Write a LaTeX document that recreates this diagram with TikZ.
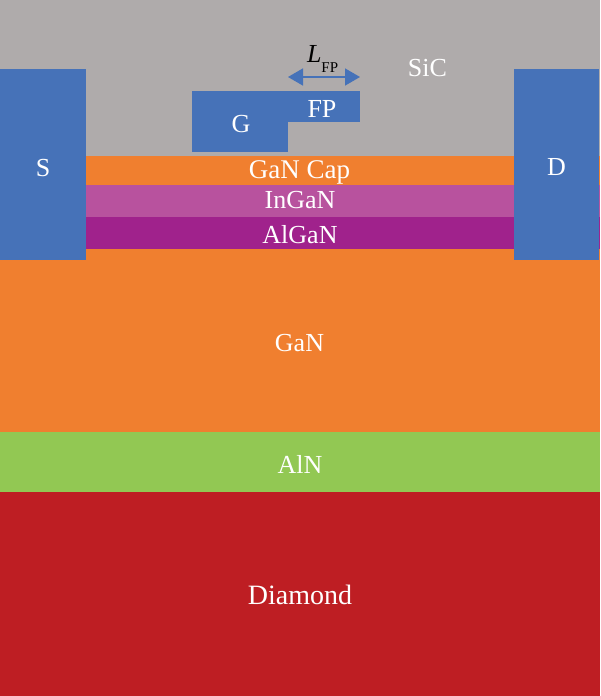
\documentclass[tikz,border=0pt]{standalone}
\usepackage{fontspec}
\setmainfont{Liberation Serif}
\usetikzlibrary{arrows.meta,positioning,calc}
\definecolor{sicgray}{HTML}{AFABAB}
\definecolor{ganorange}{HTML}{F07F2F}
\definecolor{inganpink}{HTML}{B8529E}
\definecolor{alganpurple}{HTML}{A0228C}
\definecolor{alngreen}{HTML}{92C853}
\definecolor{diamondred}{HTML}{BE1E23}
\definecolor{metalblue}{HTML}{4672B8}
\begin{document}
\begin{tikzpicture}[
        x=1pt,y=-1pt,
        layer/.style={rectangle,draw=none,inner sep=0pt,outer sep=0pt,minimum width=600pt},
        metal/.style={layer,fill=metalblue},
        tag/.style={inner sep=0pt,outer sep=0pt,anchor=base,text=white,font=\fontsize{26}{28}\selectfont},
        arrow/.style={{Triangle[length=15pt,width=17pt]}-{Triangle[length=15pt,width=17pt]},draw=metalblue,line width=1.5pt}
    ]
        \useasboundingbox (0,0) rectangle (600,696);

        \node[layer,fill=sicgray,minimum height=156pt] (sic) at (300,78) {};
        \node[layer,fill=ganorange,minimum height=183pt] (gan) at (300,340.5) {};
        \node[layer,fill=ganorange,minimum height=29pt] (cap) at (300,170.5) {};
        \node[layer,fill=inganpink,minimum height=32pt] (ingan) at (300,201) {};
        \node[layer,fill=alganpurple,minimum height=32pt] (algan) at (300,233) {};
        \node[layer,fill=alngreen,minimum height=60pt] (aln) at (300,462) {};
        \node[layer,fill=diamondred,minimum height=204pt] (diamond) at (300,594) {};

        \node[metal,minimum width=86pt,minimum height=191pt] (source) at (43,164.5) {};
        \node[metal,minimum width=85.5pt,minimum height=191pt] (drain) at (556.25,164.5) {};
        \node[metal,minimum width=96pt,minimum height=61pt] (gate) at (240,121.5) {};
        \node[metal,minimum width=72pt,minimum height=31pt] (fp) at (324,106.5) {};

        \node[tag] (siclabel) at (427.5,76) {SiC};
        \node[tag] (slabel) at (43,176) {S};
        \node[tag] (dlabel) at (556.5,175.5) {D};
        \node[tag] (glabel) at (241,132) {G};
        \node[tag] (fplabel) at (322,117) {FP};
        \node[tag,font=\fontsize{27}{28}\selectfont] (caplabel) at (299.5,178) {GaN Cap};
        \node[tag] (inganlabel) at (300,208.5) {InGaN};
        \node[tag] (alganlabel) at (300,243.5) {AlGaN};
        \node[tag] (ganlabel) at (299.5,351) {GaN};
        \node[tag] (alnlabel) at (300,473) {AlN};
        \node[tag,font=\fontsize{28}{28}\selectfont] (diamondlabel) at (300,604) {Diamond};

        \coordinate (fpleft) at (288,77);
        \coordinate (fpright) at (360,77);
        \draw[arrow] (fpleft) -- (fpright);
        \node[tag,text=black,anchor=base west] (lfp) at (307,62) {\textit{L}\raisebox{-10pt}{\fontsize{15}{15}\selectfont FP}};
    \end{tikzpicture}
\end{document}
